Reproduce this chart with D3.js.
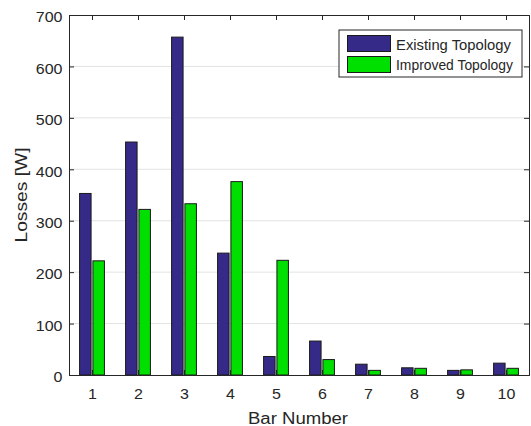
<!DOCTYPE html>
<html>
<head>
<meta charset="utf-8">
<script src="https://cdn.jsdelivr.net/npm/d3@7"></script>
<style>
  body { margin: 0; background: #fff; }
  svg text { font-family: "Liberation Sans", Arial, sans-serif; fill: #262626; }
</style>
</head>
<body>
<div id="chart"></div>
<script>
var categories = [1, 2, 3, 4, 5, 6, 7, 8, 9, 10];
var existing = [353, 453, 657, 237, 36, 66, 21, 14, 9, 23];
var improved = [222, 322, 333, 376, 223, 30, 9, 13, 10, 13];
var seriesNames = ["Existing Topology", "Improved Topology"];
var colors = ["#352a87", "#00e000"];
var yTicks = [0, 100, 200, 300, 400, 500, 600, 700];

var width = 531, height = 426;
var margin = {left: 69, top: 15, right: 2, bottom: 51};
var x0 = margin.left, x1 = width - margin.right;
var y0 = height - margin.bottom, y1 = margin.top;

var svg = d3.select("#chart").append("svg")
    .attr("width", width)
    .attr("height", height);

var x = d3.scaleLinear().domain([0.5, 10.5]).range([x0, x1]);
var y = d3.scaleLinear().domain([0, 700]).range([y0, y1]);

// grid
svg.append("g").selectAll("line")
    .data(yTicks.slice(1, -1))
    .enter().append("line")
    .attr("x1", x0).attr("x2", x1)
    .attr("y1", function(d) { return y(d); })
    .attr("y2", function(d) { return y(d); })
    .attr("stroke", "#e3e3e3")
    .attr("stroke-width", 1);

// bars
var barW = 0.25, off = 0.145;
var data = [existing, improved];
data.forEach(function(vals, s) {
    svg.append("g").selectAll("rect")
        .data(vals)
        .enter().append("rect")
        .attr("x", function(d, i) { return x(categories[i] + (s === 0 ? -off : off) - barW / 2); })
        .attr("width", x(barW) - x(0))
        .attr("y", function(d) { return y(d); })
        .attr("height", function(d) { return y(0) - y(d); })
        .attr("fill", colors[s])
        .attr("stroke", "#1a1a1a")
        .attr("stroke-width", 1);
});

// axes
var axB = svg.append("g").attr("transform", "translate(0," + y0 + ")")
    .call(d3.axisBottom(x).tickValues(categories).tickSize(-5).tickPadding(14).tickFormat(d3.format("d")));
var axT = svg.append("g").attr("transform", "translate(0," + y1 + ")")
    .call(d3.axisTop(x).tickValues(categories).tickSize(-5).tickFormat(""));
var axL = svg.append("g").attr("transform", "translate(" + x0 + ",0)")
    .call(d3.axisLeft(y).tickValues(yTicks).tickSize(-5).tickPadding(6.5));
var axR = svg.append("g").attr("transform", "translate(" + x1 + ",0)")
    .call(d3.axisRight(y).tickValues(yTicks).tickSize(-5).tickFormat(""));

[axB, axT, axL, axR].forEach(function(a) {
    a.select(".domain").attr("stroke", "#262626").attr("stroke-width", 1);
    a.selectAll(".tick line").attr("stroke", "#262626");
    a.selectAll(".tick text").attr("font-size", 14).attr("fill", "#262626")
        .style("font-family", "'Liberation Sans', Arial, sans-serif")
        .attr("textLength", function() { return this.textContent.length * 8.9; })
        .attr("lengthAdjust", "spacingAndGlyphs");
});
axL.selectAll(".tick text").attr("dy", "0.48em");

// axis labels
svg.append("text")
    .attr("x", 298)
    .attr("y", 424)
    .attr("text-anchor", "middle")
    .attr("font-size", 16)
    .attr("textLength", 100)
    .attr("lengthAdjust", "spacingAndGlyphs")
    .text("Bar Number");

svg.append("text")
    .attr("transform", "translate(27,195) rotate(-90)")
    .attr("text-anchor", "middle")
    .attr("font-size", 16)
    .attr("textLength", 95)
    .attr("lengthAdjust", "spacingAndGlyphs")
    .text("Losses [W]");

// legend
var lg = svg.append("g").attr("transform", "translate(339,30)");
lg.append("rect")
    .attr("width", 183).attr("height", 47)
    .attr("fill", "#fff").attr("stroke", "#262626").attr("stroke-width", 1);
seriesNames.forEach(function(name, i) {
    lg.append("rect")
        .attr("x", 8.5).attr("y", 5.5 + i * 21)
        .attr("width", 43).attr("height", 16)
        .attr("fill", colors[i]).attr("stroke", "#1a1a1a");
    lg.append("text")
        .attr("x", 57).attr("y", 19.5 + i * 20.5)
        .attr("font-size", 14)
        .attr("textLength", i === 0 ? 115 : 117)
        .attr("lengthAdjust", "spacingAndGlyphs")
        .text(name);
});
</script>
</body>
</html>
